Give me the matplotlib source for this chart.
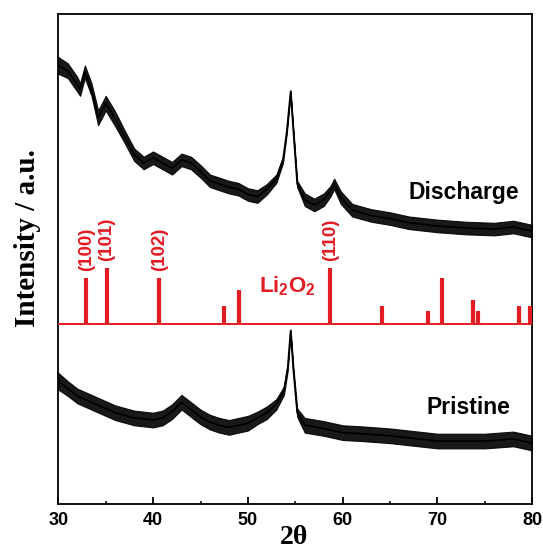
import matplotlib
matplotlib.use("Agg")
import matplotlib.pyplot as plt
import numpy as np

# Discharge pattern (2theta, intensity in a.u., half-width of noise band)
discharge_x = [30, 31, 32, 32.3, 32.8, 33.5, 34.2, 35.0, 36, 37, 38, 39, 40, 41, 42, 43, 44, 45,
               46, 47, 48, 49, 50, 51, 52, 53, 53.7, 54.1, 54.5, 54.8, 55.2, 56, 57, 58, 58.7,
               59.1, 59.8, 61, 63, 65, 67, 70, 73, 76, 78, 80]
discharge_y = [418, 413, 400, 395, 412, 395, 368, 382, 367, 350, 333, 325, 330, 325, 320, 328, 325, 317,
               308, 305, 302, 300, 295, 293, 300, 310, 328, 355, 393, 355, 305, 290, 285, 290, 298,
               305, 292, 280, 275, 272, 268, 265, 263, 262, 264, 260]
discharge_spread = [8, 7, 7, 6, 6, 6, 7, 7, 7, 6, 6, 6, 6, 6, 6, 6, 6, 6,
                    6, 6, 6, 6, 6, 6, 5, 4, 3, 2, 1.5, 2, 3, 6, 6, 6, 5,
                    5, 6, 6, 6, 6, 6, 6, 6, 6, 6, 6]

# Pristine pattern
pristine_x = [30, 31, 32, 34, 36, 38, 40, 41, 42, 43, 44, 45, 46, 47, 48, 49, 50, 51, 52, 53,
              53.8, 54.2, 54.5, 54.8, 55.2, 56, 58, 60, 62, 65, 68, 70, 75, 78, 80]
pristine_y = [117, 110, 103, 95, 87, 82, 80, 82, 88, 97, 90, 83, 78, 75, 73, 75, 77, 82, 87, 95,
              108, 130, 165, 127, 87, 75, 72, 68, 67, 65, 62, 60, 60, 62, 58]
pristine_spread = [8, 7, 7, 7, 7, 7, 7, 7, 7, 7, 7, 7, 7, 7, 7, 7, 7, 6, 6, 5,
                   4, 3, 1.5, 3, 4, 7, 7, 7, 7, 7, 7, 7, 7, 7, 7]

# Li2O2 reference pattern
ref_pos = [32.96, 35.1, 40.67, 47.47, 49.08, 58.69, 64.18, 69.0, 70.46, 73.75, 74.3, 78.57, 79.78]
ref_height = [43, 53, 43, 17, 32, 53, 17, 12, 43, 22, 12, 17, 17]
ref_baseline = 172
ref_labels = {"(100)": 32.96, "(101)": 35.1, "(102)": 40.67, "(110)": 58.69}

red = "#e31b23"

fig = plt.figure(figsize=(5.43, 5.49), dpi=100)
ax = fig.add_axes([58.3/543, 1-504/549, 474/543, 490/549])

for xs, ys, sp in [(discharge_x, discharge_y, discharge_spread),
                   (pristine_x, pristine_y, pristine_spread)]:
    xs = np.array(xs); ys = np.array(ys, float); sp = np.array(sp, float)
    ax.fill_between(xs, ys - sp, ys + sp, color="black", lw=0.8, alpha=0.9)
    ax.plot(xs, ys, color="black", lw=1.2)

ax.axhline(ref_baseline, color=red, lw=1.4, zorder=3)
ax.vlines(ref_pos, ref_baseline, [ref_baseline + h for h in ref_height], color=red, lw=3.0, zorder=3)

for lab, pos in ref_labels.items():
    h = ref_height[ref_pos.index(pos)]
    ax.text(pos, ref_baseline + h + 7, lab, rotation=90, ha="center", va="bottom",
            color=red, fontsize=13.5, fontweight="bold", family="Liberation Sans")

ax.text(54.2, 208, r"Li$_\mathregular{2}$O$_\mathregular{2}$", color=red, fontsize=16,
        fontweight="bold", family="Liberation Sans", ha="center", va="center")
ax.text(72.8, 297, "Discharge", fontsize=16.5, fontweight="bold", family="Liberation Sans",
        ha="center", va="center")
ax.text(73.3, 91.5, "Pristine", fontsize=16.5, fontweight="bold", family="Liberation Sans",
        ha="center", va="center")

ax.set_xlim(30, 80)
ax.set_ylim(0, 467)
ax.set_yticks([])
ax.set_xticks([30, 40, 50, 60, 70, 80])
ax.set_xticks([35, 45, 55, 65, 75], minor=True)
ax.tick_params(axis="x", which="major", direction="in", length=5, width=1.3, pad=5.5)
ax.tick_params(axis="x", which="minor", direction="in", length=2.5, width=1.1)
for lbl in ax.get_xticklabels():
    lbl.set_fontsize(13); lbl.set_fontweight("bold"); lbl.set_family("Liberation Sans")
for s in ax.spines.values():
    s.set_linewidth(1.3)

fig.text(294/543, 1-537.5/549, "2θ", fontsize=20, fontweight="bold", family="Liberation Serif",
         ha="center", va="center")
fig.text(28/543, 1-238/549, "Intensity / a.u.", fontsize=21, fontweight="bold",
         family="Liberation Serif", rotation=90, ha="center", va="center")

fig.savefig("out.png", dpi=100)
